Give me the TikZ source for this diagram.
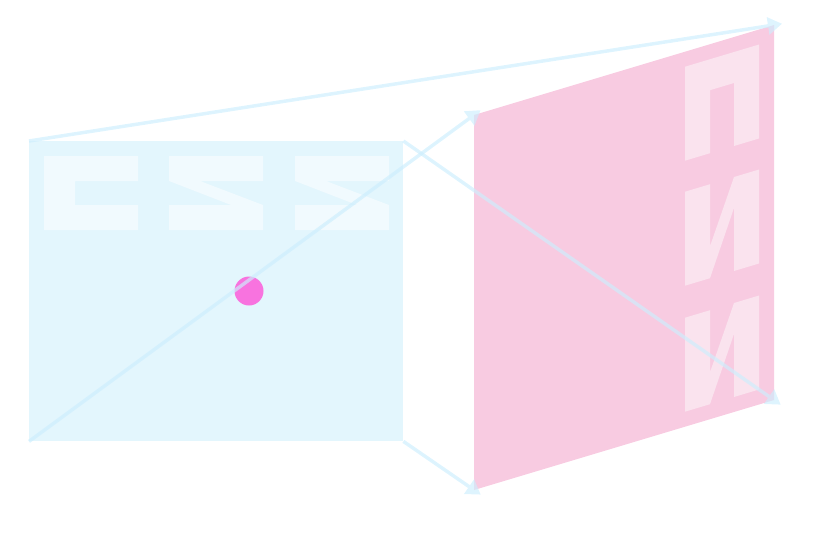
\documentclass[tikz,border=0pt]{standalone}
\usetikzlibrary{arrows.meta}
\definecolor{faceblue}{HTML}{E3F6FD}
\definecolor{glyphblue}{HTML}{F1FAFE}
\definecolor{facepink}{HTML}{F8CBE1}
\definecolor{glyphpink}{HTML}{FAE3EE}
\definecolor{dotpink}{HTML}{F873DF}
\definecolor{raycol}{HTML}{CDEEFD}
\tikzset{
  ray/.style={draw=raycol, draw opacity=0.65, fill=raycol, fill opacity=0.65, line width=3.5pt,
    -{Triangle[length=14pt,width=18pt,line width=0pt]}, shorten >=-8pt},
}
% the three block letters, in pixel coordinates of the front face
\newcommand{\cssglyphs}[1]{%
  \fill[#1] (44,156) -- (138,156) -- (138,181) -- (75,181) -- (75,205) -- (138,205) -- (138,230) -- (44,230) -- cycle;
  \foreach \dx in {0,126}{
    \fill[#1] ({169+\dx},156) -- ({263+\dx},156) -- ({263+\dx},181) -- ({200+\dx},181) -- ({263+\dx},205)
      -- ({263+\dx},230) -- ({169+\dx},230) -- ({169+\dx},205) -- ({231+\dx},205) -- ({169+\dx},181) -- cycle;
  }
}
\begin{document}
\begin{tikzpicture}[x=1pt,y=-1pt]
\useasboundingbox (0,0) rectangle (817,533);
% front face
\node[fill=faceblue, minimum width=374pt, minimum height=300pt, inner sep=0, anchor=north west] (front) at (29,141) {};
\cssglyphs{glyphblue}
% back face
\coordinate (back-tl) at (474,115);
\coordinate (back-tr) at (774,25);
\coordinate (back-br) at (774,400);
\coordinate (back-bl) at (474,490);
\fill[facepink] (back-tl) -- (back-tr) -- (back-br) -- (back-bl) -- cycle;
\begin{scope}[cm={0,-1,1,0.3,(915pt,46.3pt)}]
\cssglyphs{glyphpink}
\end{scope}
\node[circle, fill=dotpink, minimum size=29pt, inner sep=0] (dot) at (249,291) {};
% rays
\draw[ray] (front.north west) -- (back-tr);
\draw[ray] (front.north east) -- (back-br);
\draw[ray] (front.south west) -- (back-tl);
\draw[ray] (front.south east) -- (back-bl);
\end{tikzpicture}
\end{document}
